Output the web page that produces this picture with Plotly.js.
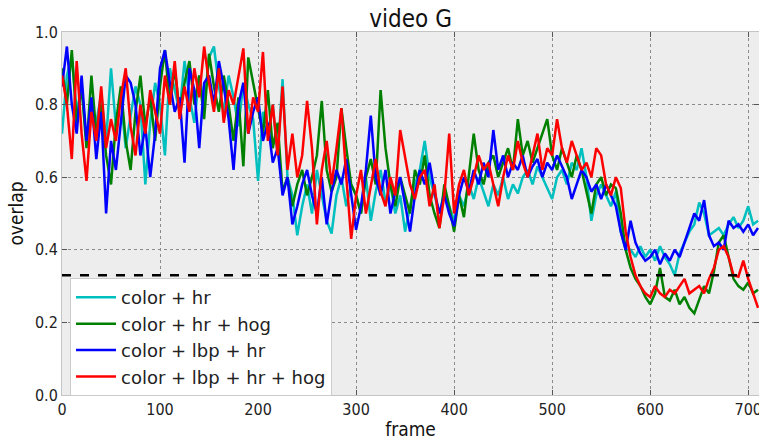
<!DOCTYPE html>
<html>
<head>
<meta charset="utf-8">
<script src="https://cdn.plot.ly/plotly-3.0.1.min.js"></script>
<style>html,body{margin:0;padding:0;background:#fff;}#chart{width:759px;height:441px;}</style>
</head>
<body>
<div id="chart"></div>
<script>
const frames = [0,5,10,15,20,25,30,35,40,45,50,55,60,65,70,75,80,85,90,95,
100,105,110,115,120,125,130,135,140,145,150,155,160,165,170,175,180,185,190,195,
200,205,210,215,220,225,230,235,240,245,250,255,260,265,270,275,280,285,290,295,
300,305,310,315,320,325,330,335,340,345,350,355,360,365,370,375,380,385,390,395,
400,405,410,415,420,425,430,435,440,445,450,455,460,465,470,475,480,485,490,495,
500,505,510,515,520,525,530,535,540,545,550,555,560,565,570,575,580,585,590,595,
600,605,610,615,620,625,630,635,640,645,650,655,660,665,670,675,680,685,690,695,
700,705,710];

const colorHr = [
0.72,0.88,0.93,0.78,0.85,0.70,0.80,0.75,0.83,0.70,
0.90,0.74,0.82,0.68,0.77,0.85,0.80,0.58,0.75,0.86,
0.80,0.66,0.90,0.84,0.78,0.92,0.82,0.75,0.88,0.80,
0.93,0.96,0.85,0.78,0.88,0.82,0.74,0.86,0.80,0.76,
0.59,0.78,0.72,0.80,0.66,0.87,0.60,0.55,0.44,0.52,
0.58,0.50,0.62,0.55,0.48,0.445,0.55,0.60,0.52,0.58,
0.55,0.50,0.60,0.48,0.56,0.62,0.53,0.58,0.50,0.55,
0.45,0.52,0.58,0.62,0.70,0.60,0.55,0.50,0.56,0.52,
0.48,0.55,0.52,0.58,0.54,0.60,0.56,0.52,0.58,0.55,
0.60,0.54,0.58,0.555,0.60,0.62,0.58,0.63,0.60,0.57,
0.54,0.60,0.62,0.58,0.64,0.62,0.68,0.60,0.48,0.55,
0.58,0.55,0.52,0.56,0.45,0.40,0.40,0.38,0.41,0.38,
0.40,0.37,0.41,0.38,0.36,0.33,0.39,0.42,0.45,0.47,
0.53,0.50,0.44,0.45,0.46,0.44,0.47,0.49,0.46,0.48,
0.52,0.47,0.48];

const colorHrHog = [
0.90,0.80,0.95,0.75,0.85,0.68,0.88,0.72,0.80,0.66,
0.58,0.75,0.85,0.70,0.62,0.78,0.88,0.74,0.82,0.70,
0.85,0.95,0.80,0.90,0.78,0.86,0.92,0.80,0.88,0.76,
0.94,0.85,0.78,0.88,0.80,0.70,0.82,0.63,0.93,0.86,
0.80,0.72,0.84,0.68,0.75,0.56,0.60,0.52,0.58,0.62,
0.55,0.60,0.66,0.81,0.62,0.56,0.60,0.79,0.68,0.58,
0.55,0.50,0.60,0.65,0.58,0.84,0.68,0.58,0.52,0.60,
0.55,0.50,0.62,0.58,0.66,0.55,0.50,0.46,0.58,0.52,
0.45,0.55,0.49,0.60,0.72,0.62,0.58,0.64,0.66,0.60,
0.64,0.68,0.62,0.76,0.66,0.70,0.64,0.68,0.72,0.76,
0.66,0.62,0.68,0.64,0.60,0.66,0.62,0.56,0.50,0.58,
0.60,0.55,0.58,0.57,0.50,0.40,0.35,0.32,0.30,0.27,
0.25,0.28,0.35,0.27,0.26,0.29,0.25,0.27,0.24,0.225,
0.26,0.30,0.28,0.34,0.42,0.44,0.38,0.32,0.30,0.29,
0.31,0.28,0.29];

const colorLbpHr = [
0.85,0.96,0.80,0.72,0.88,0.70,0.82,0.65,0.78,0.50,
0.70,0.62,0.75,0.88,0.86,0.80,0.66,0.74,0.60,0.72,
0.90,0.95,0.86,0.78,0.82,0.64,0.90,0.84,0.68,0.86,
0.88,0.80,0.92,0.85,0.76,0.62,0.80,0.86,0.72,0.78,
0.82,0.70,0.75,0.64,0.68,0.55,0.60,0.47,0.52,0.58,
0.62,0.55,0.50,0.60,0.47,0.56,0.62,0.58,0.65,0.55,
0.455,0.52,0.62,0.77,0.60,0.55,0.62,0.50,0.56,0.60,
0.52,0.45,0.55,0.62,0.58,0.64,0.56,0.50,0.55,0.50,
0.465,0.55,0.60,0.56,0.62,0.58,0.64,0.60,0.73,0.62,
0.66,0.60,0.64,0.62,0.66,0.60,0.63,0.65,0.60,0.64,
0.62,0.66,0.63,0.60,0.54,0.58,0.62,0.60,0.56,0.58,
0.54,0.58,0.55,0.52,0.45,0.40,0.48,0.42,0.39,0.37,
0.38,0.40,0.36,0.39,0.37,0.40,0.38,0.42,0.46,0.50,
0.48,0.537,0.44,0.41,0.42,0.40,0.48,0.46,0.47,0.45,
0.47,0.44,0.46];

const colorLbpHrHog = [
0.88,0.80,0.65,0.92,0.72,0.59,0.78,0.70,0.85,0.68,
0.76,0.70,0.82,0.90,0.74,0.66,0.80,0.72,0.84,0.78,
0.72,0.88,0.80,0.92,0.76,0.85,0.78,0.90,0.82,0.96,
0.86,0.78,0.90,0.75,0.84,0.80,0.88,0.955,0.72,0.82,
0.78,0.945,0.70,0.80,0.66,0.85,0.62,0.72,0.60,0.66,
0.81,0.68,0.47,0.62,0.70,0.58,0.68,0.79,0.60,0.43,
0.55,0.62,0.50,0.58,0.65,0.56,0.52,0.60,0.55,0.73,
0.66,0.58,0.54,0.60,0.62,0.52,0.58,0.46,0.55,0.72,
0.50,0.58,0.62,0.55,0.60,0.66,0.62,0.64,0.58,0.52,
0.60,0.66,0.62,0.70,0.64,0.60,0.66,0.72,0.62,0.68,
0.66,0.76,0.68,0.64,0.70,0.66,0.62,0.64,0.60,0.68,
0.66,0.58,0.55,0.60,0.57,0.45,0.38,0.33,0.30,0.28,
0.27,0.30,0.28,0.27,0.29,0.28,0.30,0.32,0.28,0.29,
0.30,0.28,0.32,0.35,0.40,0.41,0.38,0.33,0.326,0.37,
0.32,0.28,0.24];

const thresholdX = [0, 702];
const thresholdY = [0.33, 0.33];

const seriesNames = ['color + hr', 'color + hr + hog', 'color + lbp + hr', 'color + lbp + hr + hog'];
const seriesValues = [colorHr, colorHrHog, colorLbpHr, colorLbpHrHog];
const seriesColors = ['#00bfbf', '#008000', '#0000ff', '#ff0000'];

const FONT = '"DejaVu Sans Condensed", "DejaVu Sans", sans-serif';

const traces = seriesNames.map((n, i) => ({
  x: frames, y: seriesValues[i], name: n, type: 'scatter', mode: 'lines',
  line: {color: seriesColors[i], width: 2.5}
}));
traces.push({
  x: thresholdX, y: thresholdY, mode: 'lines', showlegend: false, hoverinfo: 'skip',
  line: {color: '#000000', width: 2.5, dash: 'dash'}
});

const axisCommon = {
  showline: true, mirror: 'ticks', linecolor: '#c4c4c4', linewidth: 1,
  ticks: 'inside', ticklen: 5, tickcolor: '#555555', tickwidth: 1,
  showgrid: true, gridcolor: '#8a8a8a', griddash: 'dot', gridwidth: 1,
  zeroline: false, tickfont: {family: FONT, size: 16, color: '#222'},
  ticklabeloverflow: 'allow'
};

const layout = {
  width: 759, height: 441,
  margin: {l: 62, r: 0, t: 32, b: 46},
  paper_bgcolor: '#ffffff', plot_bgcolor: '#ededed',
  title: {text: 'video G', font: {family: FONT, size: 24, color: '#111'}, x: 0.541, xanchor: 'center', y: 0.958, yanchor: 'middle'},
  xaxis: Object.assign({}, axisCommon, {
    range: [0, 711], tickvals: [0,100,200,300,400,500,600,700],
    title: {text: 'frame', font: {family: FONT, size: 19, color: '#111'}, standoff: 4}
  }),
  yaxis: Object.assign({}, axisCommon, {
    range: [0, 1], tickvals: [0,0.2,0.4,0.6,0.8,1.0], tickformat: '.1f',
    title: {text: 'overlap', font: {family: FONT, size: 19, color: '#111'}, standoff: 6}
  }),
  legend: {
    x: 0.0115, y: 0.322, xanchor: 'left', yanchor: 'top',
    bgcolor: '#ffffff', bordercolor: '#cccccc', borderwidth: 1,
    font: {family: '"DejaVu Sans", sans-serif', size: 18, color: '#222'},
    tracegroupgap: 0, itemwidth: 40
  },
  showlegend: true
};

Plotly.newPlot('chart', traces, layout, {displayModeBar: false, staticPlot: true});
</script>
</body>
</html>
